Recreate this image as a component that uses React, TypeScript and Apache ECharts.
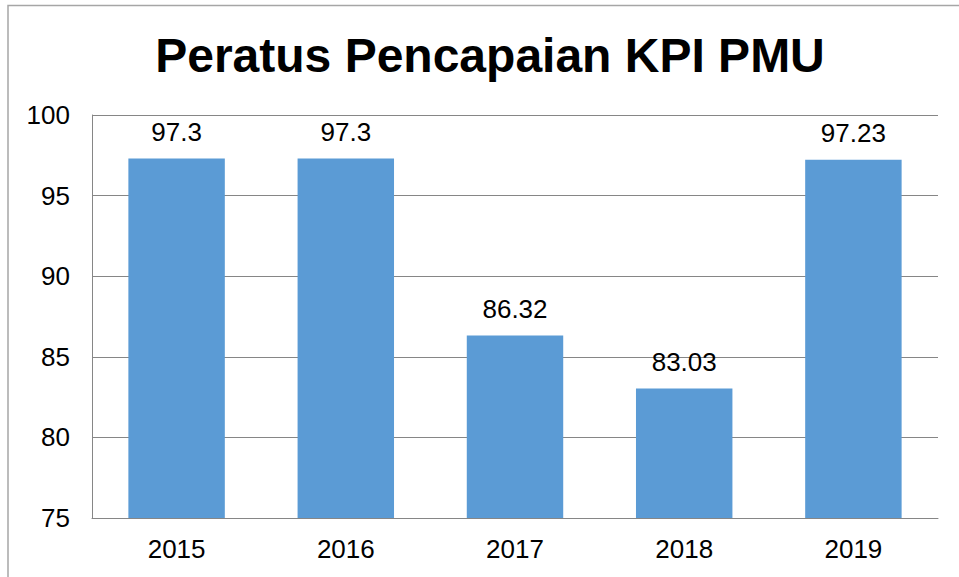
import React, { useEffect, useRef } from "react";
import * as echarts from "echarts";

const categories = ["2015", "2016", "2017", "2018", "2019"];
const values = [97.3, 97.3, 86.32, 83.03, 97.23];
const labels = ["97.3", "97.3", "86.32", "83.03", "97.23"];
const titleText = "Peratus Pencapaian KPI PMU";

const FONT = "Liberation Sans, Arial, sans-serif";

export default function App() {
  const ref = useRef<HTMLDivElement>(null);
  useEffect(() => {
    document.body.style.margin = "0";
    const chart = echarts.init(ref.current!, null, { renderer: "svg" });
    chart.setOption({
      animation: false,
      backgroundColor: "#ffffff",
      title: {
        text: titleText,
        left: 485,
        textAlign: "center",
        top: 26,
        textStyle: { fontFamily: FONT, fontSize: 48, fontWeight: "bold", color: "#000000" },
      },
      graphic: [
        {
          type: "rect",
          shape: { x: 8, y: 5.5, width: 1000, height: 700 },
          style: { fill: "none", stroke: "#A6A6A6", lineWidth: 1.5 },
          silent: true,
        },
      ],
      grid: { left: 92, right: 21, top: 115, bottom: 59, containLabel: false },
      xAxis: {
        type: "category",
        data: categories,
        axisLine: { show: true, lineStyle: { color: "#868686", width: 1 } },
        axisTick: { show: false },
        axisLabel: { fontFamily: FONT, fontSize: 26, color: "#000000", margin: 18 },
      },
      yAxis: {
        type: "value",
        min: 75,
        max: 100,
        interval: 5,
        axisLine: { show: true, lineStyle: { color: "#868686", width: 1 } },
        axisTick: { show: false },
        splitLine: { show: true, lineStyle: { color: "#868686", width: 1 } },
        axisLabel: { fontFamily: FONT, fontSize: 26, color: "#000000", margin: 22 },
      },
      series: [
        {
          type: "bar",
          data: values,
          barWidth: "57%",
          itemStyle: { color: "#5B9BD5" },
          label: {
            show: true,
            position: "top",
            distance: 14,
            fontFamily: FONT,
            fontSize: 26,
            color: "#000000",
            formatter: (p: any) => labels[p.dataIndex],
          },
        },
      ],
    });
    return () => chart.dispose();
  }, []);
  return <div ref={ref} style={{ width: 959, height: 577 }} />;
}
